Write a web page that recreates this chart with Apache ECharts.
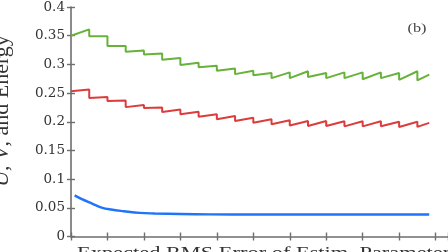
<!DOCTYPE html>
<html>
<head>
<meta charset="utf-8">
<script src="https://cdn.jsdelivr.net/npm/echarts@6/dist/echarts.min.js"></script>
<style>
html,body{margin:0;padding:0;background:#fff;}
#chart{width:448px;height:252px;}
</style>
</head>
<body>
<div id="chart"></div>
<script>
// ---- data (x in "step" units, one sawtooth step per unit) ----
const yTickLabels = ['0','0.05','0.1','0.15','0.2','0.25','0.3','0.35','0.4'];
const stepX = [1,2,3,4,5,6,7,8,9,10,11,12,13,14,15,16,17,18,19];
const greenStart = 0.350;
const greenBefore = [0.361,0.349,0.332,0.324,0.319,0.311,0.303,0.2975,0.293,0.289,0.285,0.286,0.288,0.285,0.286,0.286,0.286,0.285,0.288];
const greenAfter  = [0.349,0.332,0.322,0.317,0.308,0.299,0.295,0.289,0.283,0.281,0.276,0.276,0.278,0.276,0.276,0.274,0.276,0.273,0.272];
const greenEnd = 0.282;
const redStart = 0.253;
const redBefore = [0.256,0.243,0.237,0.229,0.225,0.2215,0.2174,0.2129,0.2099,0.207,0.2042,0.2025,0.2013,0.2013,0.201,0.201,0.201,0.200,0.200];
const redAfter  = [0.2416,0.236,0.2255,0.224,0.2168,0.2129,0.2088,0.2042,0.2013,0.1984,0.1956,0.1935,0.1927,0.1927,0.192,0.192,0.192,0.191,0.191];
const redEnd = 0.198;
const endX = 19.65;
const blueX = [0.2,0.6,1.16,1.68,2.2,2.9,3.77,4.6,6,7.6,10,13,16,19.65];
const blueY = [0.0717,0.065,0.0574,0.0505,0.047,0.0441,0.0411,0.0401,0.0392,0.0386,0.0384,0.0384,0.0384,0.0384];

function saw(start, before, after, end) {
  const pts = [[0, start]];
  stepX.forEach((x, i) => { pts.push([x, before[i]]); pts.push([x, after[i]]); });
  pts.push([endX, end]);
  return pts;
}
const bluePts = blueX.map((x, i) => [x, blueY[i]]);

const axisCol = '#6e6e6e';
const chart = echarts.init(document.getElementById('chart'), null, {renderer: 'canvas'});
const xBase = {
  type: 'value', min: 0, max: 20.68, interval: 2, position: 'bottom',
  axisLabel: {show: false}, splitLine: {show: false}
};
const yBase = {
  type: 'value', min: 0, max: 0.4, interval: 0.05, position: 'left',
  splitLine: {show: false}
};
chart.setOption({
  animation: false,
  backgroundColor: '#fff',
  grid: {left: 71, top: 5, right: -20, bottom: 15.5, containLabel: false},
  xAxis: [
    Object.assign({}, xBase, {
      axisLine: {show: true, lineStyle: {color: axisCol, width: 1.6}},
      axisTick: {show: true, inside: false, length: 4, lineStyle: {color: axisCol, width: 1.4}}
    }),
    Object.assign({}, xBase, {
      axisLine: {show: false},
      axisTick: {show: true, inside: true, length: 4, lineStyle: {color: axisCol, width: 1.4}}
    })
  ],
  yAxis: [
    Object.assign({}, yBase, {
      axisLine: {show: true, lineStyle: {color: axisCol, width: 1.6}},
      axisTick: {show: true, inside: false, length: 4, lineStyle: {color: axisCol, width: 1.4}},
      axisLabel: {
        show: true, margin: 6, color: '#333', fontFamily: 'DejaVu Serif', fontSize: 13.5,
        formatter: (v) => { const i = Math.round(v / 0.05); return yTickLabels[i] !== undefined ? yTickLabels[i] : ''; }
      }
    }),
    Object.assign({}, yBase, {
      axisLine: {show: false},
      axisTick: {show: true, inside: true, length: 4, lineStyle: {color: axisCol, width: 1.4}},
      axisLabel: {show: false}
    })
  ],
  series: [
    {type: 'line', name: 'Energy', data: saw(greenStart, greenBefore, greenAfter, greenEnd),
     showSymbol: false, symbol: 'none', lineStyle: {color: '#67b23a', width: 2}, z: 3},
    {type: 'line', name: 'V', data: saw(redStart, redBefore, redAfter, redEnd),
     showSymbol: false, symbol: 'none', lineStyle: {color: '#db3d3d', width: 2}, z: 3},
    {type: 'line', name: 'U', data: bluePts, smooth: 0.4,
     showSymbol: false, symbol: 'none', lineStyle: {color: '#1f74fb', width: 2.4}, z: 3}
  ],
  graphic: [
    {type: 'text', x: 417, y: 29, scaleX: 1.25,
     style: {text: '(b)', font: '13px "Liberation Serif"', fill: '#444', align: 'center', verticalAlign: 'middle'}},
    {type: 'text', x: 13, y: 111, rotation: Math.PI / 2,
     style: {text: '{i|U}, {i|V}, and Energy', font: '22px "Liberation Serif"', fill: '#333',
             align: 'center', verticalAlign: 'bottom',
             rich: {i: {fontStyle: 'italic', font: 'italic 22px "Liberation Serif"', fill: '#333'}}}},
    {type: 'text', x: 77, y: 246, scaleX: 1.4,
     style: {text: 'Expected RMS Error of Estim. Parameters', font: '16px "Liberation Serif"', fill: '#333',
             align: 'left', verticalAlign: 'top'}}
  ]
});
</script>
</body>
</html>
